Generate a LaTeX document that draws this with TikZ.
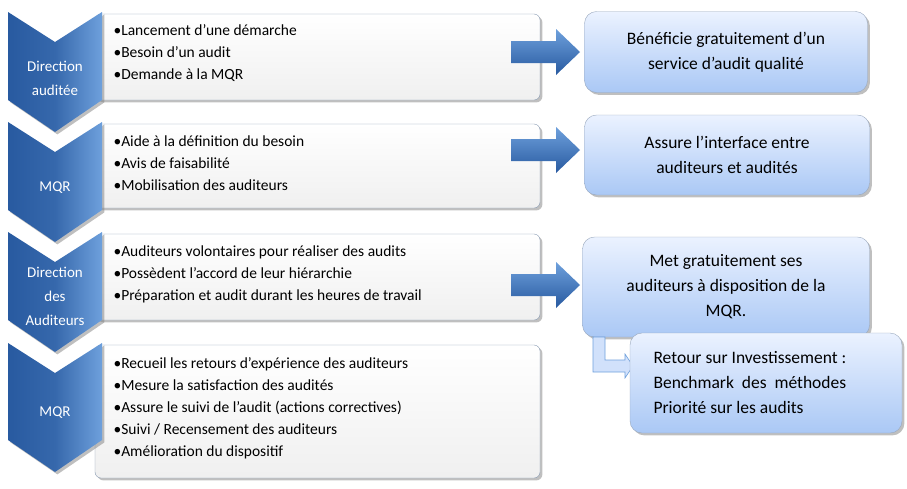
\documentclass[tikz,border=0pt]{standalone}
\usepackage{fontspec}
\setmainfont{Carlito}
\usetikzlibrary{shadows}
\definecolor{cdark}{RGB}{40,90,160}
\definecolor{clight}{RGB}{110,160,220}
\definecolor{rtop}{RGB}{235,242,255}
\definecolor{rbot}{RGB}{170,200,245}
\begin{document}
\begin{tikzpicture}[x=1pt,y=-1pt,
  chev/.style={left color=cdark,right color=clight,middle color=cdark!80!clight,draw=none,drop shadow},
  lbox/.style={draw=cdark!50!gray!70,rounded corners=6pt,top color=white,bottom color=gray!12,drop shadow},
  rbox/.style={draw=cdark!50!gray!60,rounded corners=12pt,top color=rtop,bottom color=rbot,drop shadow,align=center,font=\fontsize{17.5}{25}\selectfont},
  btxt/.style={anchor=north west,align=left,font=\fontsize{15.5}{22}\selectfont},
  ctxt/.style={text=white,align=center,font=\fontsize{15}{24}\selectfont},
  barrow/.style={top color=clight,bottom color=cdark,draw=none}]
\useasboundingbox (0,0) rectangle (907,488);
% left boxes
\path[lbox] (95,14) rectangle (540,100);
\path[lbox] (95,124) rectangle (540,208);
\path[lbox] (95,234) rectangle (540,320);
\path[lbox] (95,345) rectangle (540,478);
% chevrons
\foreach \t/\b in {12/100,122/210,232/320,343/440}{
  \path[chev] (8,\t) -- (55,\t+30) -- (102,\t) -- (102,\b) -- (55,\b+32) -- (8,\b) -- cycle;}
\node[ctxt] (c1) at (55,78) {Direction\\auditée};
\node[ctxt] (c2) at (55,188) {MQR};
\node[ctxt] (c3) at (55,296) {Direction\\des\\Auditeurs};
\node[ctxt] (c4) at (55,413) {MQR};
\node[btxt] (t1) at (110,21) {•Lancement d'une démarche\\•Besoin d'un audit\\•Demande à la MQR};
\node[btxt] (t2) at (110,132) {•Aide à la définition du besoin\\•Avis de faisabilité\\•Mobilisation des auditeurs};
\node[btxt] (t3) at (110,242) {•Auditeurs volontaires pour réaliser des audits\\•Possèdent l'accord de leur hiérarchie\\•Préparation et audit durant les heures de travail};
\node[btxt] (t4) at (110,354) {•Recueil les retours d'expérience des auditeurs\\•Mesure la satisfaction des audités\\•Assure le suivi de l'audit (actions correctives)\\•Suivi / Recensement des auditeurs\\•Amélioration du dispositif};
% right boxes
\node[rbox,minimum width=283pt,minimum height=81pt] (r1) at (726,52) {Bénéficie gratuitement d’un\\service d’audit qualité};
\node[rbox,minimum width=285pt,minimum height=80pt] (r2) at (727,155) {Assure l’interface entre\\auditeurs et audités};
\node[rbox,minimum width=287pt,minimum height=100pt] (r3) at (726,287) {Met gratuitement ses\\auditeurs à disposition de la\\MQR.};
\draw[draw=clight,fill=rtop!60!rbot,line width=0.6pt] (593,337) -- (593,372) -- (625,372) -- (625,378) -- (633,366) -- (625,354) -- (625,360) -- (605,360) -- (605,337) -- cycle;
\node[rbox,minimum width=272pt,minimum height=100pt] (r4) at (766,383) {};
\node[align=left,anchor=west,font=\fontsize{17.5}{25}\selectfont] (r4t) at (650,383) {Retour sur Investissement :\\Benchmark\ \ des\ \ méthodes\\Priorité sur les audits};
% arrows
\foreach \y in {52,150,285}{
  \path[barrow] (511,\y-11) -- (556,\y-11) -- (556,\y-23) -- (580,\y) -- (556,\y+23) -- (556,\y+11) -- (511,\y+11) -- cycle;}
\end{tikzpicture}
\end{document}
